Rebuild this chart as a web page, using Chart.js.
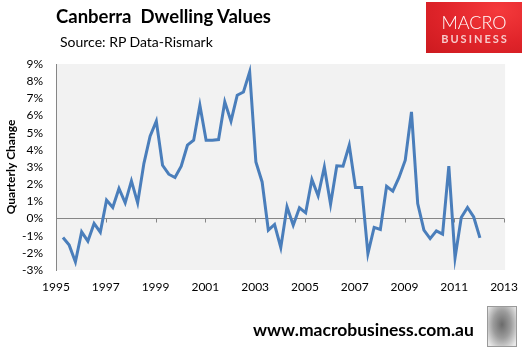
<!DOCTYPE html>
<html>
<head>
<meta charset="utf-8">
<script src="https://cdn.jsdelivr.net/npm/chart.js@4.4.1/dist/chart.umd.min.js"></script>
<style>
    body { margin: 0; background: #fff; font-family: Lato, sans-serif; }
    #wrap { position: relative; width: 528px; height: 349px; overflow: hidden; }
    #chart { position: absolute; left: 0; top: 0; }
    .title { position: absolute; left: 56px; top: 7px; font-size: 18.5px; font-weight: bold; white-space: pre; color: #000; line-height: 1; }
    .source { position: absolute; left: 60px; top: 35px; font-size: 14px; color: #000; line-height: 1; }
    .logo { position: absolute; left: 426px; top: 2px; width: 96px; height: 51px;
        background: radial-gradient(ellipse at 75% 15%, #f53a3c 0%, #e0242a 55%, #cc1a1f 100%); }
    .logo .m { position: absolute; left: 0; width: 96px; top: 11px; text-align: center; font-size: 18px; font-weight: 300; color: #fff; line-height: 1; }
    .logo .b { position: absolute; left: 1px; width: 96px; top: 31px; text-align: center; font-size: 11px; font-weight: bold; letter-spacing: 2px; color: #f7caca; line-height: 1; }
    .site { position: absolute; left: 253px; top: 321px; font-size: 17.5px; font-weight: bold; color: #000; line-height: 1; }
    .wolf { position: absolute; left: 487px; top: 306px; width: 28px; height: 39px; border: 1px solid #9a9a9a;
        background: radial-gradient(ellipse at 50% 45%, #6b6b6b 0%, #9c9c9c 45%, #e8e8e8 90%); }
</style>
</head>
<body>
<div id="wrap">
    <canvas id="chart" width="528" height="349"></canvas>
    <div class="title">Canberra  Dwelling Values</div>
    <div class="source">Source: RP Data-Rismark</div>
    <div class="logo"><div class="m">MACRO</div><div class="b">BUSINESS</div></div>
    <div class="site">www.macrobusiness.com.au</div>
    <div class="wolf"></div>
</div>
<script>
// Quartalswerte
const firstQuarter = 1995.28; // Lage des ersten Quartals auf der Zeitachse
const quarterlyChange = [
    -1.11, -1.55, -2.53, -0.78, -1.32, -0.29, -0.8, 1.07, 0.64, 1.75,
    0.91, 2.19, 0.91, 3.2, 4.79, 5.67, 3.1, 2.58, 2.39, 3.05,
    4.27, 4.56, 6.6, 4.56, 4.56, 4.6, 6.8, 5.67, 7.18, 7.37,
    8.54, 3.3, 2.13, -0.68, -0.35, -1.69, 0.68, -0.39, 0.62, 0.33,
    2.27, 1.32, 3.0, 0.83, 3.07, 3.05, 4.27, 1.81, 1.81, -2.04,
    -0.52, -0.64, 1.88, 1.59, 2.39, 3.4, 6.21, 0.87, -0.68, -1.17,
    -0.72, -0.91, 3.05, -2.29, 0.06, 0.64, 0.09, -1.13
];
const yearTicks = [1995, 1997, 1999, 2001, 2003, 2005, 2007, 2009, 2011, 2013];
const percentTicks = [-3, -2, -1, 0, 1, 2, 3, 4, 5, 6, 7, 8, 9];

const points = quarterlyChange.map((v, i) => ({ x: firstQuarter + i / 4, y: v }));

const font = { family: "Lato, sans-serif", size: 12 };

// grauer Hintergrund und Teilstriche an der Nulllinie
const plotDecor = {
    id: "plotDecor",
    beforeDraw(chart) {
        const { ctx, chartArea: a } = chart;
        ctx.save();
        ctx.fillStyle = "#f2f2f2";
        ctx.fillRect(a.left, a.top, a.right - a.left + 1, a.bottom - a.top);
        ctx.restore();
    },
    beforeDatasetsDraw(chart) {
        const { ctx, scales } = chart;
        const y0 = scales.y.getPixelForValue(0);
        ctx.save();
        ctx.strokeStyle = "#868686";
        ctx.lineWidth = 1;
        yearTicks.forEach(t => {
            const x = Math.round(scales.x.getPixelForValue(t)) + 0.5;
            ctx.beginPath();
            ctx.moveTo(x, y0);
            ctx.lineTo(x, y0 + 4);
            ctx.stroke();
        });
        ctx.restore();
    }
};

new Chart(document.getElementById("chart"), {
    type: "line",
    data: {
        datasets: [{
            data: points,
            borderColor: "#4a7ebb",
            borderWidth: 3,
            pointRadius: 0,
            tension: 0,
            fill: false,
        }],
    },
    options: {
        responsive: false,
        animation: false,
        devicePixelRatio: 1,
        layout: { padding: { left: 0, top: 64, right: 21, bottom: 49 } },
        plugins: { legend: { display: false }, tooltip: { enabled: false } },
        scales: {
            x: {
                type: "linear",
                min: 1995,
                max: 2013,
                afterBuildTicks: s => { s.ticks = yearTicks.map(v => ({ value: v })); },
                afterFit: s => { s.height = 30; },
                grid: { display: false, drawTicks: false },
                border: { display: false },
                ticks: { padding: 10, color: "#000", font, maxRotation: 0, autoSkip: false, callback: v => String(v) },
            },
            y: {
                min: -3,
                max: 9,
                afterBuildTicks: s => { s.ticks = percentTicks.map(v => ({ value: v })); },
                afterFit: s => { s.width = 56; },
                grid: {
                    drawTicks: false,
                    color: c => (c.tick && c.tick.value === 0 ? "#868686" : "rgba(0,0,0,0)"),
                },
                border: { display: true, color: "#868686", width: 1 },
                ticks: { padding: 13, color: "#000", font, autoSkip: false, callback: v => v + "%" },
                title: {
                    display: true,
                    text: "Quarterly Change",
                    color: "#000",
                    font: { family: "Lato, sans-serif", size: 12, weight: "bold" },
                    padding: { top: 4, bottom: 0 },
                },
            },
        },
    },
    plugins: [plotDecor],
});
</script>
</body>
</html>
